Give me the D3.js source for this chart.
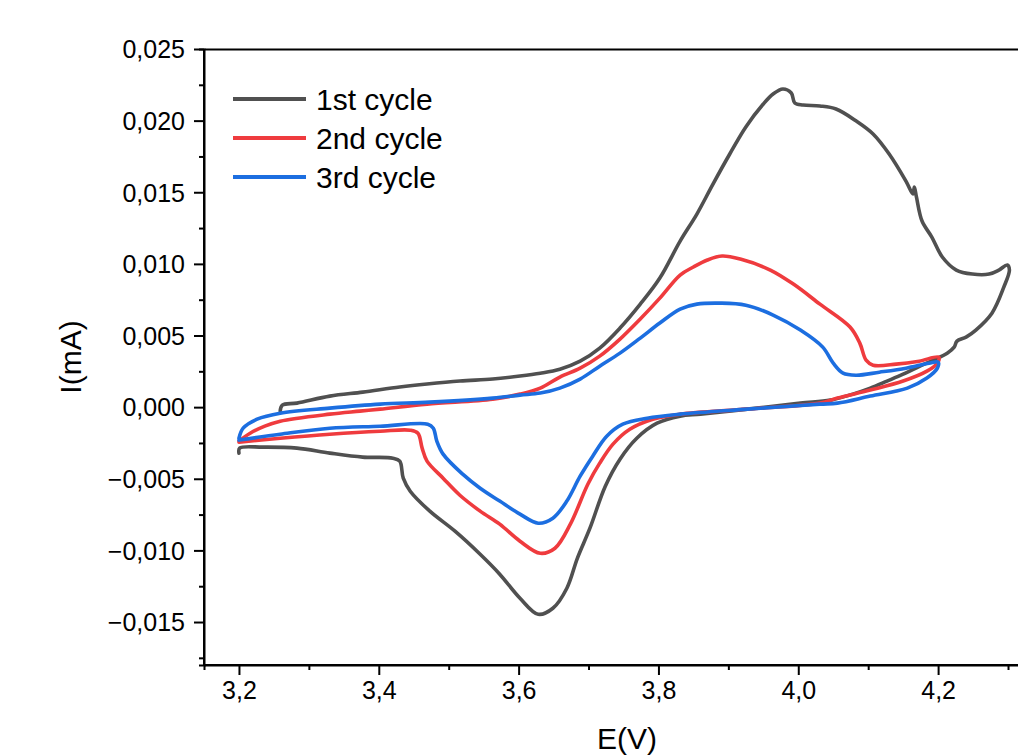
<!DOCTYPE html>
<html><head><meta charset="utf-8">
<script src="https://cdn.jsdelivr.net/npm/d3@7/dist/d3.min.js"></script>
<style>body{margin:0;background:#fff;} text{font-family:"Liberation Sans",Arial,sans-serif;fill:#000;}</style>
</head><body><svg id="c" width="1018" height="755"></svg>
<script>
// 1st cycle: [E(V), I(mA)]
const cycle1 = [[3.259,-0.00028],[3.262,0.00014],[3.283,0.00028],[3.330,0.00077],[3.377,0.00105],[3.430,0.00140],[3.469,0.00161],[3.516,0.00182],[3.563,0.00196],[3.602,0.00217],[3.631,0.00237],[3.659,0.00265],[3.688,0.00321],[3.716,0.00412],[3.745,0.00552],[3.774,0.00719],[3.802,0.00901],[3.831,0.01159],[3.855,0.01348],[3.878,0.01557],[3.902,0.01767],[3.925,0.01956],[3.950,0.02116],[3.964,0.02186],[3.978,0.02221],[3.990,0.02193],[3.995,0.02123],[4.007,0.02109],[4.031,0.02102],[4.054,0.02081],[4.083,0.01997],[4.107,0.01907],[4.130,0.01767],[4.154,0.01578],[4.164,0.01488],[4.166,0.01536],[4.169,0.01467],[4.177,0.01299],[4.191,0.01187],[4.206,0.01048],[4.226,0.00957],[4.249,0.00929],[4.273,0.00929],[4.287,0.00957],[4.299,0.00992],[4.302,0.00957],[4.294,0.00838],[4.277,0.00656],[4.254,0.00538],[4.240,0.00489],[4.227,0.00461],[4.223,0.00419],[4.213,0.00377],[4.193,0.00328],[4.174,0.00286],[4.150,0.00230],[4.127,0.00182],[4.103,0.00133],[4.078,0.00091],[4.046,0.00049],[4.003,0.00028],[3.927,-0.00014],[3.860,-0.00049],[3.831,-0.00063],[3.798,-0.00112],[3.769,-0.00217],[3.745,-0.00363],[3.724,-0.00552],[3.702,-0.00845],[3.684,-0.01055],[3.669,-0.01264],[3.649,-0.01404],[3.628,-0.01446],[3.602,-0.01334],[3.573,-0.01166],[3.545,-0.01027],[3.509,-0.00866],[3.473,-0.00726],[3.445,-0.00587],[3.435,-0.00496],[3.430,-0.00377],[3.420,-0.00356],[3.377,-0.00349],[3.330,-0.00321],[3.283,-0.00286],[3.234,-0.00279],[3.201,-0.00286],[3.200,-0.00321]];
// 2nd cycle
const cycle2 = [[3.200,-0.00237],[3.216,-0.00182],[3.237,-0.00133],[3.259,-0.00098],[3.330,-0.00049],[3.373,-0.00028],[3.402,-0.00014],[3.469,0.00021],[3.563,0.00056],[3.602,0.00091],[3.631,0.00133],[3.659,0.00210],[3.688,0.00272],[3.716,0.00356],[3.745,0.00475],[3.774,0.00615],[3.802,0.00761],[3.831,0.00922],[3.850,0.00978],[3.870,0.01027],[3.891,0.01055],[3.917,0.01034],[3.960,0.00957],[3.993,0.00859],[4.031,0.00719],[4.074,0.00559],[4.088,0.00447],[4.097,0.00328],[4.107,0.00293],[4.140,0.00300],[4.173,0.00321],[4.201,0.00349],[4.199,0.00307],[4.184,0.00251],[4.150,0.00182],[4.103,0.00119],[4.056,0.00063],[4.031,0.00028],[3.927,-0.00014],[3.831,-0.00049],[3.792,-0.00084],[3.759,-0.00154],[3.735,-0.00258],[3.716,-0.00391],[3.699,-0.00538],[3.674,-0.00817],[3.652,-0.00985],[3.631,-0.01020],[3.602,-0.00936],[3.573,-0.00817],[3.545,-0.00726],[3.516,-0.00615],[3.492,-0.00496],[3.469,-0.00377],[3.462,-0.00286],[3.456,-0.00182],[3.445,-0.00161],[3.402,-0.00168],[3.330,-0.00189],[3.259,-0.00217],[3.200,-0.00244]];
// 3rd cycle
const cycle3 = [[3.200,-0.00217],[3.206,-0.00147],[3.226,-0.00084],[3.259,-0.00042],[3.330,-0.00007],[3.402,0.00021],[3.473,0.00035],[3.563,0.00063],[3.602,0.00084],[3.631,0.00098],[3.659,0.00133],[3.688,0.00196],[3.716,0.00286],[3.745,0.00377],[3.774,0.00482],[3.802,0.00587],[3.831,0.00684],[3.855,0.00719],[3.888,0.00726],[3.925,0.00712],[3.964,0.00643],[4.003,0.00538],[4.035,0.00419],[4.050,0.00307],[4.064,0.00237],[4.083,0.00223],[4.116,0.00244],[4.154,0.00272],[4.187,0.00307],[4.200,0.00314],[4.199,0.00272],[4.184,0.00203],[4.156,0.00133],[4.103,0.00077],[4.056,0.00028],[4.031,0.00021],[3.927,-0.00014],[3.831,-0.00049],[3.784,-0.00077],[3.749,-0.00119],[3.726,-0.00203],[3.706,-0.00342],[3.688,-0.00482],[3.669,-0.00656],[3.649,-0.00775],[3.628,-0.00810],[3.602,-0.00747],[3.573,-0.00656],[3.545,-0.00566],[3.520,-0.00468],[3.492,-0.00328],[3.483,-0.00237],[3.478,-0.00147],[3.470,-0.00119],[3.402,-0.00133],[3.330,-0.00147],[3.259,-0.00189],[3.200,-0.00230]];

const seriesNames = ["1st cycle","2nd cycle","3rd cycle"];
const seriesColors = ["#505050","#ef3b3e","#1c6ee0"];
const xTicks = [3.2,3.4,3.6,3.8,4.0,4.2];
const xMinor = [3.3,3.5,3.7,3.9,4.1,4.3];
const yTicks = [-0.015,-0.010,-0.005,0.000,0.005,0.010,0.015,0.020,0.025];
const yMinor = [-0.0175,-0.0125,-0.0075,-0.0025,0.0025,0.0075,0.0125,0.0175,0.0225];
const xLabel = "E(V)", yLabel = "I(mA)";

const svg = d3.select("#c");
const pL=204, pR=1022, pT=49, pB=665;
const x = d3.scaleLinear().domain([3.15,4.32]).range([pL,pR]);
const y = d3.scaleLinear().domain([-0.018,0.025]).range([pB,pT]);
const fmt = v => {
  const s = Math.abs(v).toFixed(3).replace(".",",");
  return (v < -1e-9 ? "\u2212" : "") + s;
};
const fmtX = v => v.toFixed(1).replace(".",",");

// curves
const line = d3.line().x(d=>x(d[0])).y(d=>y(d[1])).curve(d3.curveCatmullRom.alpha(0.5));
[cycle1,cycle2,cycle3].forEach((data,i)=>{
  svg.append("path").attr("d",line(data)).attr("fill","none")
    .attr("stroke",seriesColors[i]).attr("stroke-width",3.6)
    .attr("stroke-linejoin","round").attr("stroke-linecap","round");
});

// axes
const yAxis = d3.axisLeft(y).tickValues(yTicks).tickFormat(fmt).tickSize(10).tickPadding(9);
const gy = svg.append("g").attr("transform",`translate(${pL},0)`).call(yAxis);
const xAxis = d3.axisBottom(x).tickValues(xTicks).tickFormat(fmtX).tickSize(10).tickPadding(6);
const gx = svg.append("g").attr("transform",`translate(0,${pB})`).call(xAxis);
svg.append("g").attr("transform",`translate(${pL},0)`)
  .call(d3.axisLeft(y).tickValues(yMinor).tickFormat("").tickSize(5));
svg.append("g").attr("transform",`translate(0,${pB})`)
  .call(d3.axisBottom(x).tickValues(xMinor).tickFormat("").tickSize(5));
svg.append("g").attr("transform",`translate(0,${pT})`)
  .call(d3.axisTop(x).tickValues([]).tickSizeOuter(0));
svg.selectAll(".domain").attr("stroke","#000").attr("stroke-width",2);
svg.selectAll(".tick line").attr("stroke","#000").attr("stroke-width",2);
gy.selectAll(".tick text").style("font-size","25px").attr("dy","0.35em");
gx.selectAll(".tick text").style("font-size","25px").attr("dy","0.71em");
gy.select(".domain").attr("d",`M0,${pT}V${pB}`);
gx.select(".domain").attr("d",`M${pL},0H${pR}`);

// titles
svg.append("text").attr("x",x(3.755)).attr("y",749).attr("text-anchor","middle")
  .style("font-size","30px").text(xLabel);
svg.append("text").attr("transform",`translate(81,357) rotate(-90)`).attr("text-anchor","middle")
  .style("font-size","30px").text(yLabel);

// legend
const lg = svg.append("g");
seriesNames.forEach((n,i)=>{
  const ly = 99 + i*39;
  lg.append("line").attr("x1",233).attr("x2",306).attr("y1",ly).attr("y2",ly)
    .attr("stroke",seriesColors[i]).attr("stroke-width",4);
  lg.append("text").attr("x",316).attr("y",ly).attr("dy","0.35em")
    .style("font-size","30px").text(n);
});
</script></body></html>
